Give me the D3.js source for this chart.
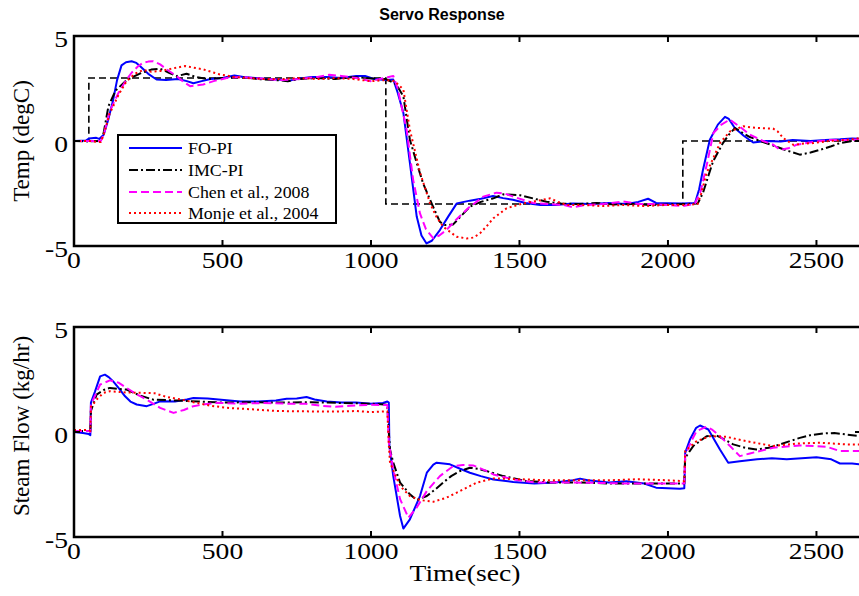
<!DOCTYPE html>
<html><head><meta charset="utf-8">
<script src="https://cdn.jsdelivr.net/npm/d3@7"></script>
<style>body{margin:0;background:#fff}svg{display:block}</style>
</head><body><svg id="c" width="859" height="596"></svg>
<script>
const xTicks = [0, 500, 1000, 1500, 2000, 2500];
const yTicks = [-5, 0, 5];
const seriesNames = ["FO-PI", "IMC-PI", "Chen et al., 2008", "Monje et al., 2004"];

const tempSetpoint = [[0,0],[50,0],[50,3],[1050,3],[1050,-3],[2050,-3],[2050,0],[2650,0]];

const tempFOPI = [[0,0],[40,0.02],[50,0.12],[75,0.15],[85,0.1],[100,0.3],[115,1.0],[131,1.9],[145,2.9],[160,3.6],[175,3.75],[194,3.8],[210,3.72],[222,3.57],[250,3.2],[278,2.93],[310,2.9],[350,2.95],[380,2.85],[402,2.75],[430,2.85],[460,2.95],[500,3.0],[540,3.12],[570,3.05],[610,3.0],[650,2.95],[700,2.92],[720,2.85],[750,2.95],[800,3.05],[850,3.05],[900,3.0],[950,3.1],[980,3.1],[1010,2.95],[1050,2.9],[1075,2.93],[1090,2.3],[1109,1.35],[1131,-1.04],[1154,-3.6],[1170,-4.5],[1187,-4.88],[1205,-4.75],[1232,-4.24],[1260,-3.6],[1289,-2.97],[1333,-2.84],[1370,-2.75],[1411,-2.62],[1445,-2.72],[1478,-2.8],[1520,-2.95],[1570,-3.05],[1620,-3.05],[1680,-2.98],[1740,-3.0],[1800,-2.95],[1860,-3.0],[1900,-2.9],[1933,-2.75],[1960,-2.95],[2000,-2.97],[2050,-2.98],[2091,-2.95],[2105,-2.3],[2118,-1.37],[2141,0.06],[2168,0.78],[2192,1.15],[2205,1.05],[2225,0.62],[2255,0.25],[2287,-0.07],[2330,0.0],[2380,-0.02],[2420,0.05],[2480,0.0],[2530,0.05],[2580,0.08],[2620,0.12],[2650,0.1]];

const tempIMC = [[0,0],[50,-0.02],[90,0.0],[100,0.4],[116,1.66],[140,2.4],[177,2.9],[220,3.2],[260,3.4],[290,3.44],[320,3.25],[346,3.09],[379,3.2],[410,3.05],[450,2.95],[500,3.0],[560,3.05],[620,2.95],[680,2.9],[720,2.85],[760,2.95],[820,3.0],[880,2.95],[940,3.05],[1000,2.98],[1050,2.95],[1085,2.7],[1109,2.13],[1131,0.06],[1153,-1.0],[1175,-2.0],[1205,-3.0],[1232,-3.85],[1249,-4.0],[1276,-3.98],[1305,-3.55],[1333,-3.13],[1370,-2.9],[1412,-2.73],[1445,-2.54],[1502,-2.58],[1550,-2.75],[1591,-2.89],[1640,-2.98],[1700,-3.0],[1760,-2.95],[1820,-3.02],[1880,-3.0],[1940,-3.05],[2000,-3.02],[2060,-3.0],[2100,-2.98],[2118,-2.47],[2135,-1.7],[2152,-0.97],[2185,-0.1],[2205,0.3],[2226,0.62],[2250,0.4],[2276,0.19],[2320,-0.05],[2355,-0.22],[2400,-0.45],[2444,-0.65],[2480,-0.55],[2512,-0.42],[2550,-0.25],[2579,-0.1],[2620,0.0],[2650,0.05]];

const tempChen = [[0,0],[50,0.0],[90,0.0],[100,0.3],[120,1.4],[150,2.3],[177,2.93],[194,3.25],[215,3.55],[233,3.73],[250,3.78],[267,3.8],[290,3.65],[312,3.41],[346,3.09],[370,2.8],[391,2.61],[410,2.65],[435,2.69],[470,2.85],[514,3.0],[560,3.05],[600,3.0],[650,2.95],[700,2.9],[760,2.95],[820,3.05],[860,3.15],[900,3.1],[950,3.0],[1000,2.85],[1030,2.95],[1060,3.05],[1075,3.1],[1090,2.5],[1120,0.54],[1142,-1.85],[1165,-3.45],[1185,-4.2],[1210,-4.64],[1230,-4.5],[1254,-4.24],[1290,-3.7],[1333,-3.13],[1378,-2.65],[1423,-2.46],[1450,-2.5],[1479,-2.65],[1546,-2.95],[1600,-3.0],[1650,-3.05],[1680,-3.15],[1720,-3.05],[1780,-3.0],[1850,-2.88],[1900,-3.0],[1950,-3.0],[2000,-3.05],[2050,-3.1],[2090,-3.0],[2110,-2.4],[2132,-1.05],[2153,0.38],[2180,0.78],[2208,1.02],[2240,0.7],[2276,0.3],[2320,0.0],[2355,-0.18],[2377,-0.42],[2405,-0.35],[2433,-0.18],[2488,-0.05],[2540,0.05],[2600,0.05],[2650,0.08]];

const tempMonje = [[0,0],[50,0.0],[90,-0.05],[100,0.3],[120,1.3],[150,2.2],[177,2.85],[205,3.2],[233,3.38],[260,3.3],[290,3.33],[330,3.45],[374,3.57],[400,3.5],[435,3.41],[491,3.17],[540,3.05],[581,3.0],[640,2.95],[700,2.95],[760,3.0],[820,2.95],[880,3.0],[940,2.95],[1000,2.85],[1050,2.9],[1080,2.85],[1109,2.45],[1131,0.54],[1165,-1.5],[1199,-2.97],[1220,-3.6],[1243,-4.08],[1288,-4.56],[1322,-4.64],[1345,-4.6],[1367,-4.4],[1390,-4.05],[1412,-3.68],[1457,-3.2],[1513,-2.97],[1560,-2.85],[1603,-2.73],[1630,-2.9],[1659,-3.05],[1720,-3.05],[1780,-3.1],[1850,-3.05],[1920,-3.1],[1990,-3.05],[2050,-3.05],[2100,-3.0],[2112,-2.5],[2130,-1.53],[2153,-0.8],[2175,-0.1],[2209,0.46],[2253,0.7],[2298,0.62],[2354,0.59],[2370,0.45],[2388,0.14],[2422,-0.18],[2460,-0.12],[2490,-0.1],[2540,0.0],[2600,0.05],[2650,0.15]];

const flowFOPI = [[0,0],[30,-0.05],[50,-0.1],[55,-0.15],[57,1.4],[70,1.9],[88,2.65],[104,2.73],[118,2.6],[132,2.41],[150,2.1],[172,1.7],[190,1.45],[211,1.31],[245,1.23],[270,1.35],[290,1.46],[340,1.45],[380,1.55],[402,1.62],[450,1.6],[514,1.51],[560,1.45],[620,1.45],[680,1.5],[716,1.58],[750,1.6],[783,1.67],[810,1.55],[851,1.45],[900,1.4],[950,1.4],[1000,1.35],[1040,1.38],[1055,1.45],[1060,1.4],[1062,-0.67],[1075,-2.1],[1098,-4.0],[1109,-4.6],[1131,-4.16],[1165,-3.05],[1188,-1.94],[1210,-1.55],[1221,-1.46],[1266,-1.54],[1300,-1.75],[1333,-1.94],[1370,-2.1],[1412,-2.26],[1479,-2.38],[1550,-2.45],[1620,-2.4],[1680,-2.3],[1704,-2.22],[1730,-2.3],[1800,-2.4],[1860,-2.35],[1920,-2.45],[1960,-2.65],[2000,-2.68],[2040,-2.7],[2055,-2.68],[2058,-0.99],[2074,-0.36],[2095,0.2],[2108,0.31],[2136,0.12],[2175,-0.83],[2203,-1.46],[2242,-1.39],[2300,-1.3],[2350,-1.25],[2400,-1.3],[2450,-1.25],[2500,-1.2],[2550,-1.3],[2579,-1.5],[2620,-1.5],[2650,-1.55]];

const flowIMC = [[0,0.05],[50,0.05],[55,0.0],[57,1.0],[76,1.78],[100,2.0],[121,2.1],[150,2.05],[177,2.02],[220,1.75],[267,1.54],[346,1.5],[420,1.45],[500,1.4],[600,1.42],[700,1.4],[800,1.42],[900,1.38],[1000,1.35],[1055,1.3],[1060,0.0],[1064,-0.83],[1075,-1.46],[1098,-2.41],[1131,-2.97],[1154,-3.24],[1188,-3.05],[1215,-2.75],[1243,-2.41],[1270,-2.1],[1300,-1.86],[1333,-1.7],[1360,-1.75],[1389,-1.86],[1446,-2.1],[1525,-2.34],[1600,-2.4],[1700,-2.4],[1800,-2.45],[1900,-2.45],[2000,-2.45],[2055,-2.45],[2058,-1.23],[2085,-0.67],[2130,-0.2],[2164,-0.17],[2190,-0.35],[2220,-0.59],[2260,-0.75],[2298,-0.83],[2340,-0.75],[2377,-0.59],[2444,-0.28],[2480,-0.15],[2523,-0.07],[2560,-0.05],[2602,-0.12],[2650,-0.2]];

const flowChen = [[0,0.05],[50,0.05],[55,0.0],[57,1.3],[88,2.26],[121,2.46],[150,2.35],[177,2.1],[210,1.8],[245,1.54],[290,1.15],[335,0.91],[370,1.05],[402,1.23],[440,1.32],[480,1.39],[560,1.35],[640,1.38],[720,1.35],[780,1.35],[830,1.25],[880,1.2],[930,1.25],[1000,1.3],[1055,1.28],[1060,-0.5],[1075,-1.78],[1098,-3.2],[1126,-4.08],[1154,-3.6],[1188,-2.81],[1232,-2.1],[1277,-1.62],[1310,-1.57],[1344,-1.59],[1380,-1.8],[1412,-2.02],[1479,-2.26],[1550,-2.4],[1650,-2.4],[1750,-2.42],[1850,-2.45],[1950,-2.45],[2000,-2.45],[2055,-2.45],[2058,-1.1],[2080,-0.4],[2096,0.04],[2130,0.25],[2150,0.1],[2175,-0.2],[2209,-0.67],[2242,-1.15],[2276,-1.02],[2354,-0.75],[2444,-0.64],[2534,-0.7],[2579,-0.91],[2650,-0.9]];

const flowMonje = [[0,0.1],[50,0.1],[55,0.05],[57,1.2],[80,1.6],[99,1.86],[121,1.94],[180,1.88],[233,1.86],[270,1.85],[312,1.67],[360,1.55],[402,1.42],[460,1.25],[514,1.15],[600,1.08],[680,1.0],[739,0.99],[800,0.98],[880,0.97],[950,1.0],[1000,0.95],[1055,0.99],[1060,-0.6],[1064,-1.46],[1098,-2.57],[1131,-3.05],[1165,-3.24],[1210,-3.32],[1254,-3.13],[1300,-2.81],[1356,-2.41],[1412,-2.21],[1500,-2.25],[1600,-2.3],[1700,-2.3],[1800,-2.3],[1900,-2.25],[2000,-2.3],[2055,-2.34],[2058,-0.9],[2096,-0.44],[2141,-0.2],[2197,-0.23],[2265,-0.44],[2354,-0.67],[2433,-0.55],[2512,-0.51],[2602,-0.59],[2650,-0.6]];

const styles = [
  {color:"#0000ff", dash:null, width:2},
  {color:"#000000", dash:"9,3,2,3", width:2},
  {color:"#ff00ff", dash:"8,4", width:2},
  {color:"#ff0000", dash:"2,3", width:2}
];

const svg = d3.select("#c");
const serif = "'Liberation Serif','Times New Roman',serif";
const SX = 1.15;

const x = d3.scaleLinear().domain([0, 2650]).range([74, 861]);

function stext(g, txt, px, py, size, anchor, sx) {
  return g.append("text").attr("transform", `translate(${px},${py}) scale(${sx},1)`)
    .attr("font-family", serif).attr("font-size", size).attr("text-anchor", anchor)
    .attr("fill", "#000").text(txt);
}

function panel(top, bottom, series, setpoint, clipId) {
  const y = d3.scaleLinear().domain([-5, 5]).range([bottom, top]);
  const g = svg.append("g");
  g.append("clipPath").attr("id", clipId).append("rect")
    .attr("x", x(0)).attr("y", top).attr("width", x(2650) - x(0)).attr("height", bottom - top);
  const line = d3.line().x(d => x(d[0])).y(d => y(d[1]));
  const lg = g.append("g").attr("clip-path", `url(#${clipId})`);
  if (setpoint) {
    lg.append("path").attr("d", line(setpoint)).attr("fill", "none")
      .attr("stroke", "#000").attr("stroke-width", 1.6).attr("stroke-dasharray", "7,4");
  }
  series.forEach((s, i) => {
    const st = styles[i];
    lg.append("path").attr("d", line(s)).attr("fill", "none")
      .attr("stroke", st.color).attr("stroke-width", st.width)
      .attr("stroke-dasharray", st.dash).attr("stroke-linejoin", "round");
  });
  g.append("rect").attr("x", x(0)).attr("y", top).attr("width", x(2650) - x(0)).attr("height", bottom - top)
    .attr("fill", "none").attr("stroke", "#000").attr("stroke-width", 2.5);
  const tl = 6;
  xTicks.forEach(t => {
    g.append("line").attr("x1", x(t)).attr("x2", x(t)).attr("y1", bottom).attr("y2", bottom - tl).attr("stroke", "#000").attr("stroke-width", 2);
    g.append("line").attr("x1", x(t)).attr("x2", x(t)).attr("y1", top).attr("y2", top + tl).attr("stroke", "#000").attr("stroke-width", 2);
    stext(g, String(t), x(t), bottom + 22, 24, "middle", SX);
  });
  yTicks.forEach(t => {
    g.append("line").attr("x1", x(0)).attr("x2", x(0) + tl).attr("y1", y(t)).attr("y2", y(t)).attr("stroke", "#000").attr("stroke-width", 2);
    g.append("line").attr("x1", x(2650)).attr("x2", x(2650) - tl).attr("y1", y(t)).attr("y2", y(t)).attr("stroke", "#000").attr("stroke-width", 2);
    stext(g, String(t), 68, y(t) + 11, 24, "end", SX);
  });
  return g;
}

panel(36, 246, [tempFOPI, tempIMC, tempChen, tempMonje], tempSetpoint, "clipTop");
panel(327, 537, [flowFOPI, flowIMC, flowChen, flowMonje], null, "clipBot");

svg.append("text").attr("x", 442).attr("y", 20).attr("text-anchor", "middle")
  .attr("font-family", "'Liberation Sans',Arial,sans-serif").attr("font-weight", "bold")
  .attr("font-size", 16).text("Servo Response");

svg.append("text").attr("transform", "translate(29,141) rotate(-90)").attr("text-anchor", "middle")
  .attr("font-family", serif).attr("font-size", 23).text("Temp (degC)");
svg.append("text").attr("transform", "translate(29,426) rotate(-90)").attr("text-anchor", "middle")
  .attr("font-family", serif).attr("font-size", 23).text("Steam Flow (kg/hr)");
stext(svg, "Time(sec)", 465, 581, 24, "middle", SX);

const leg = svg.append("g");
leg.append("rect").attr("x", 118).attr("y", 135).attr("width", 218).attr("height", 88)
  .attr("fill", "#fff").attr("stroke", "#000").attr("stroke-width", 2);
const rowY = [148, 170, 192, 213];
seriesNames.forEach((n, i) => {
  const st = styles[i];
  leg.append("line").attr("x1", 129).attr("x2", 182).attr("y1", rowY[i]).attr("y2", rowY[i])
    .attr("stroke", st.color).attr("stroke-width", st.width).attr("stroke-dasharray", st.dash);
  stext(leg, n, 188, rowY[i] + 6, 17, "start", 1.05);
});
</script>
</body></html>
